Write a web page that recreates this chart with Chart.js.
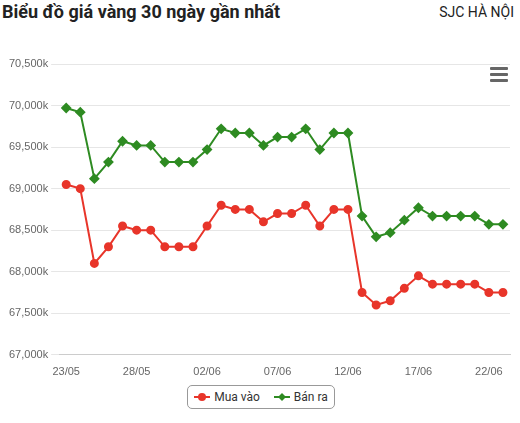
<!DOCTYPE html>
<html><head><meta charset="utf-8">
<script src="https://cdn.jsdelivr.net/npm/chart.js@4"></script>
<style>
body{margin:0;width:520px;height:423px;background:#fff;font-family:Roboto,sans-serif;position:relative;overflow:hidden}
#t{position:absolute;left:2px;top:1px;font-size:18px;font-weight:bold;color:#222}
#s{position:absolute;right:6px;top:4px;font-size:14px;color:#222}
#m{position:absolute;right:12px;top:67px;width:18px}
#m div{height:3px;background:#666;margin-bottom:3px;border-radius:1px}
#c{position:absolute;left:0;top:52px}
#lg{position:absolute;left:187px;top:385px;width:146px;height:22px;border:1px solid #999;border-radius:5px;font-size:12px;color:#333;display:flex;align-items:center;justify-content:center;gap:14px}
.it{display:flex;align-items:center;gap:4px}
</style></head><body>
<div id="t">Biểu đồ giá vàng 30 ngày gần nhất</div>
<div id="s">SJC HÀ NỘI</div>
<div id="m"><div></div><div></div><div></div></div>
<div id="c"><canvas id="cv" width="520" height="330"></canvas></div>
<div id="lg"><span class="it"><svg width="16" height="10"><line x1="0" y1="5" x2="16" y2="5" stroke="#e8352a" stroke-width="2"/><circle cx="8" cy="5" r="4" fill="#e8352a"/></svg>Mua vào</span><span class="it"><svg width="16" height="10"><line x1="0" y1="5" x2="16" y2="5" stroke="#2e8b22" stroke-width="2"/><path d="M8 1L12 5L8 9L4 5Z" fill="#2e8b22"/></svg>Bán ra</span></div>
<script>
const dates=["23/05","24/05","25/05","26/05","27/05","28/05","29/05","30/05","31/05","01/06","02/06","03/06","04/06","05/06","06/06","07/06","08/06","09/06","10/06","11/06","12/06","13/06","14/06","15/06","16/06","17/06","18/06","19/06","20/06","21/06","22/06","23/06"];
const muaVao=[69050,69000,68100,68300,68550,68500,68500,68300,68300,68300,68550,68800,68750,68750,68600,68700,68700,68800,68550,68750,68750,67750,67600,67650,67800,67950,67850,67850,67850,67850,67750,67750];
const banRa=[69970,69920,69120,69320,69570,69520,69520,69320,69320,69320,69470,69720,69670,69670,69520,69620,69620,69720,69470,69670,69670,68670,68420,68470,68620,68770,68670,68670,68670,68670,68570,68570];
new Chart(document.getElementById('cv'),{type:'line',
data:{labels:dates,datasets:[
{label:'Mua vào',data:muaVao,borderColor:'#e8352a',backgroundColor:'#e8352a',borderWidth:2,pointRadius:3.5,pointStyle:'circle',tension:0},
{label:'Bán ra',data:banRa,borderColor:'#2e8b22',backgroundColor:'#2e8b22',borderWidth:2,pointRadius:4,pointStyle:'rectRot',tension:0}]},
options:{responsive:false,animation:false,layout:{padding:{left:6,right:10,top:12,bottom:0}},
plugins:{legend:{display:false},tooltip:{enabled:false}},
scales:{x:{offset:true,grid:{display:false},border:{color:'#ccc'},ticks:{autoSkip:false,maxRotation:0,color:'#666',font:{size:11},callback:(v,i)=>i%5===0?dates[i]:null}},
y:{min:67000,max:70500,grid:{color:'#e6e6e6'},border:{display:false},ticks:{stepSize:500,color:'#666',font:{size:11},callback:v=>(v/1000).toFixed(3).replace('.',',')+'k'}}}}});
</script></body></html>
